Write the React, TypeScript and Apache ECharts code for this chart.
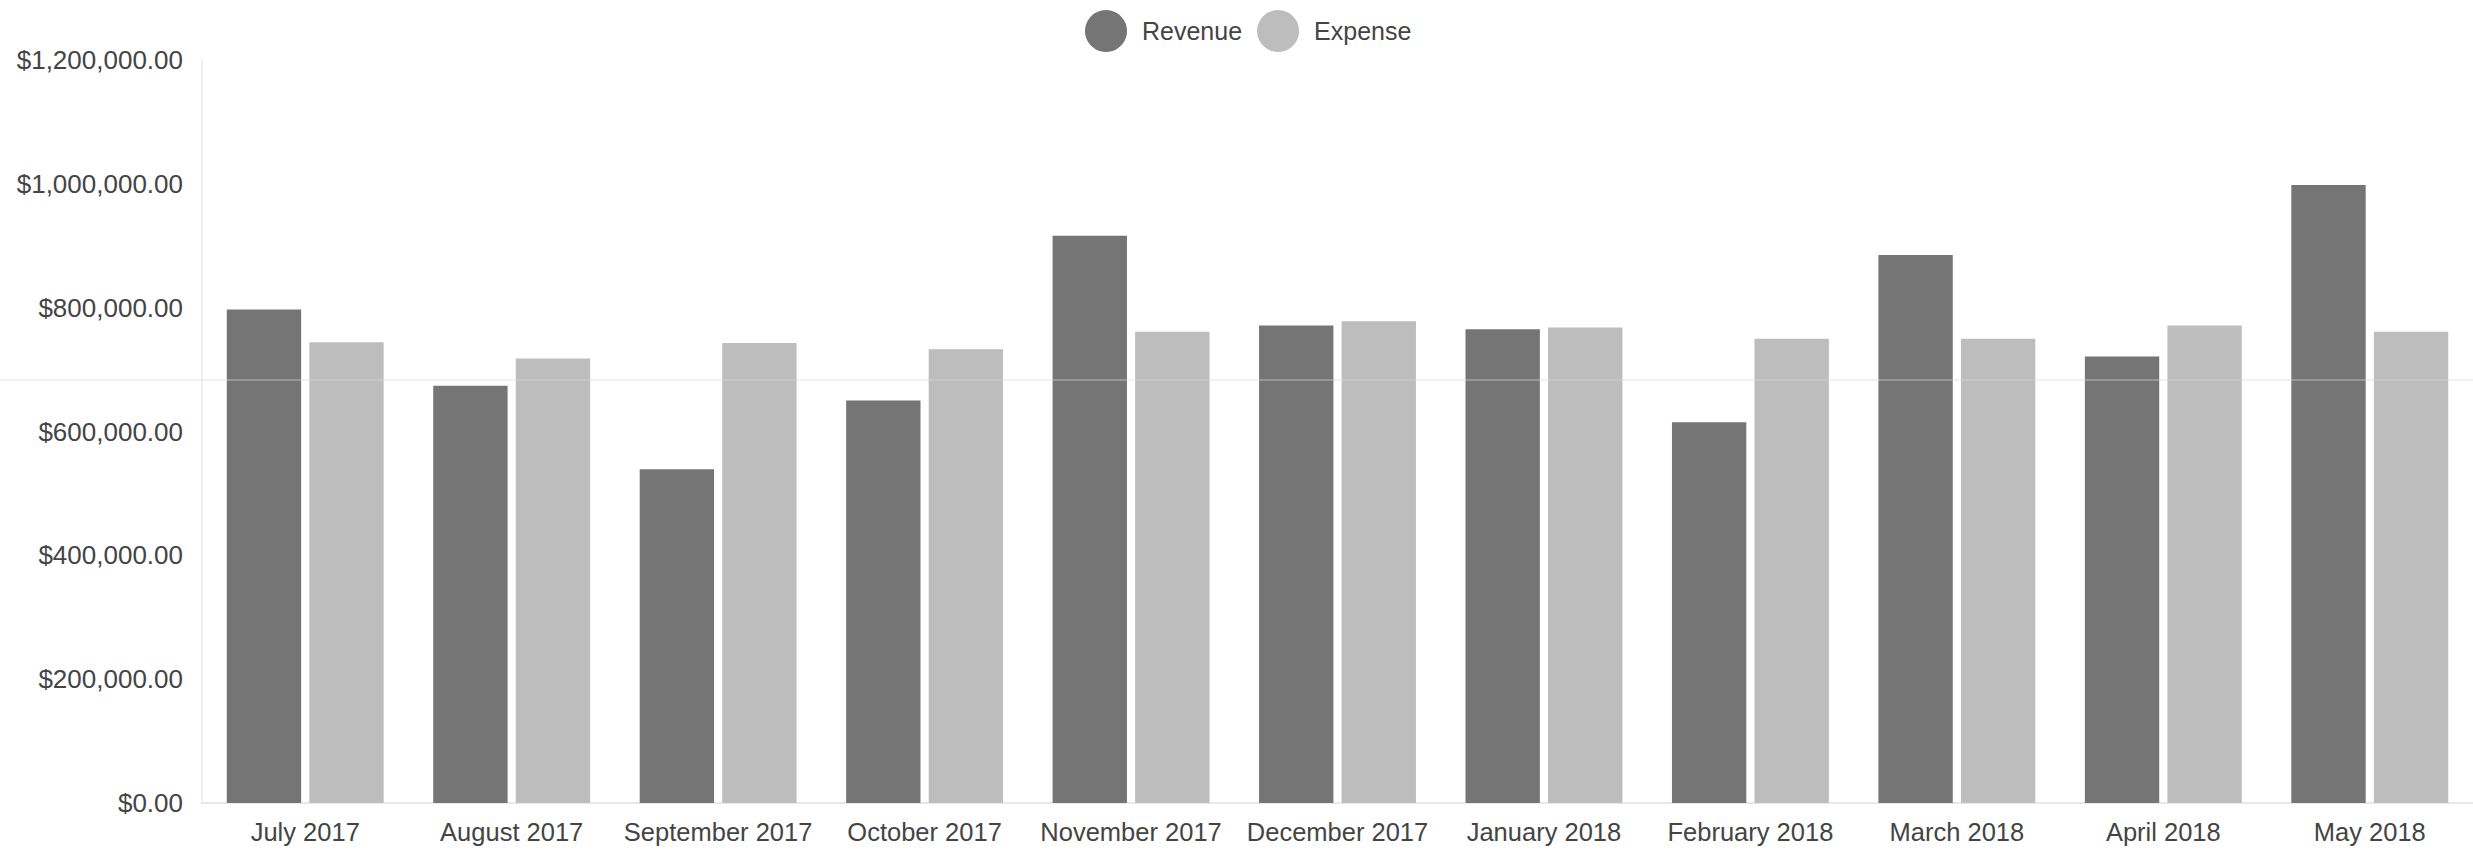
import React, { useEffect, useRef } from "react";
import * as echarts from "echarts";

const categories = [
  "July 2017",
  "August 2017",
  "September 2017",
  "October 2017",
  "November 2017",
  "December 2017",
  "January 2018",
  "February 2018",
  "March 2018",
  "April 2018",
  "May 2018",
];

const revenue = [797000, 674000, 539000, 650000, 916000, 771000, 765000, 615000, 885000, 721000, 998000];
const expense = [744000, 718000, 743000, 733000, 761000, 778000, 768000, 750000, 750000, 771000, 761000];

const yTicks = { min: 0, max: 1200000, interval: 200000 };

const FONT = "'Liberation Sans', Arial, Helvetica, sans-serif";

export default function App() {
  const ref = useRef<HTMLDivElement>(null);

  useEffect(() => {
    if (!ref.current) return;
    const chart = echarts.init(ref.current, undefined, { renderer: "svg" });
    chart.setOption({
      animation: false,
      backgroundColor: "#ffffff",
      textStyle: { fontFamily: FONT },
      legend: {
        top: 5,
        left: 1080,
        icon: "circle",
        itemWidth: 62,
        itemHeight: 42,
        itemGap: 15,
        symbolKeepAspect: true,
        textStyle: { fontFamily: FONT, fontSize: 25, color: "#444" },
        data: ["Revenue", "Expense"],
      },
      grid: { left: 202, right: -6, top: 60, bottom: 51, containLabel: false },
      xAxis: {
        type: "category",
        data: categories,
        axisLine: { show: true, lineStyle: { color: "#e8e8e8", width: 2 } },
        axisTick: { show: false },
        axisLabel: {
          fontFamily: FONT,
          fontSize: 25.5,
          color: "#444",
          margin: 16,
          interval: 0,
        },
        splitLine: { show: false },
      },
      yAxis: {
        type: "value",
        min: yTicks.min,
        max: yTicks.max,
        interval: yTicks.interval,
        axisLine: { show: true, lineStyle: { color: "#efefef", width: 2 } },
        axisTick: { show: false },
        splitLine: { show: false },
        axisLabel: {
          fontFamily: FONT,
          fontSize: 26,
          color: "#444",
          margin: 19,
          formatter: (v: number) =>
            "$" + v.toLocaleString("en-US", { minimumFractionDigits: 2, maximumFractionDigits: 2 }),
        },
      },
      series: [
        {
          name: "Revenue",
          type: "bar",
          data: revenue,
          itemStyle: { color: "#757575" },
          barCategoryGap: "24%",
          barGap: "11%",
        },
        {
          name: "Expense",
          type: "bar",
          data: expense,
          itemStyle: { color: "#bdbdbd" },
          barCategoryGap: "24%",
          barGap: "11%",
        },
      ],
      graphic: [
        {
          type: "line",
          z: 100,
          silent: true,
          shape: { x1: 0, y1: 380, x2: 2473, y2: 380 },
          style: { stroke: "rgba(215,215,215,0.35)", lineWidth: 2 },
        },
      ],
    });
    return () => chart.dispose();
  }, []);

  return (
    <div
      ref={ref}
      style={{ position: "fixed", left: 0, top: 0, width: 2473, height: 854, background: "#fff" }}
    />
  );
}
